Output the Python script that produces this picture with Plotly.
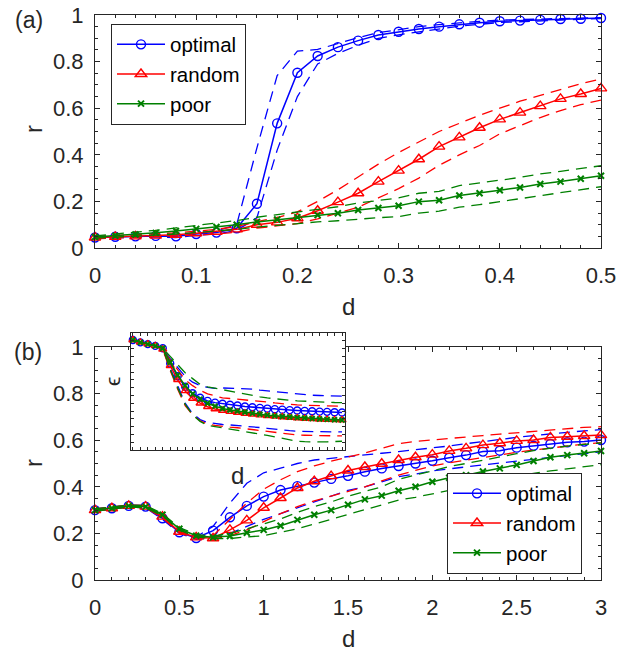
import plotly.graph_objects as go

# ---------------- data: panel (a) ----------------
d_top = [0.00, 0.02, 0.04, 0.06, 0.08, 0.10, 0.12, 0.14, 0.16, 0.18, 0.20, 0.22, 0.24,
         0.26, 0.28, 0.30, 0.32, 0.34, 0.36, 0.38, 0.40, 0.42, 0.44, 0.46, 0.48, 0.50]
opt_top = [0.045, 0.048, 0.050, 0.052, 0.050, 0.060, 0.066, 0.085, 0.190, 0.535, 0.752, 0.824, 0.862,
           0.890, 0.914, 0.928, 0.940, 0.950, 0.960, 0.967, 0.973, 0.976, 0.979, 0.983, 0.984, 0.987]
opt_top_hi = [0.050, 0.052, 0.055, 0.057, 0.056, 0.066, 0.073, 0.100, 0.430, 0.740, 0.845, 0.852, 0.878,
              0.903, 0.924, 0.938, 0.950, 0.959, 0.967, 0.973, 0.978, 0.981, 0.983, 0.986, 0.987, 0.989]
opt_top_lo = [0.040, 0.044, 0.046, 0.047, 0.045, 0.054, 0.060, 0.075, 0.130, 0.420, 0.650, 0.790, 0.835,
              0.870, 0.900, 0.915, 0.928, 0.940, 0.952, 0.960, 0.968, 0.971, 0.975, 0.980, 0.981, 0.985]
rnd_top = [0.045, 0.048, 0.050, 0.053, 0.057, 0.063, 0.070, 0.080, 0.100, 0.110, 0.128, 0.160, 0.197,
           0.235, 0.285, 0.332, 0.381, 0.435, 0.475, 0.516, 0.552, 0.581, 0.609, 0.640, 0.661, 0.685]
rnd_top_hi = [0.050, 0.053, 0.056, 0.060, 0.065, 0.072, 0.080, 0.092, 0.113, 0.130, 0.155, 0.200, 0.250,
              0.305, 0.360, 0.410, 0.455, 0.500, 0.535, 0.570, 0.600, 0.630, 0.655, 0.680, 0.705, 0.725]
rnd_top_lo = [0.040, 0.043, 0.045, 0.047, 0.050, 0.055, 0.060, 0.068, 0.085, 0.095, 0.105, 0.125, 0.150,
              0.175, 0.215, 0.255, 0.300, 0.355, 0.400, 0.440, 0.490, 0.525, 0.560, 0.590, 0.615, 0.635]
poor_top = [0.047, 0.052, 0.058, 0.065, 0.073, 0.082, 0.090, 0.100, 0.112, 0.122, 0.132, 0.141, 0.149,
            0.163, 0.172, 0.181, 0.199, 0.205, 0.225, 0.235, 0.248, 0.260, 0.275, 0.285, 0.297, 0.310]
poor_top_hi = [0.052, 0.059, 0.067, 0.076, 0.086, 0.097, 0.106, 0.118, 0.132, 0.144, 0.156, 0.167, 0.177,
               0.193, 0.204, 0.215, 0.235, 0.243, 0.268, 0.278, 0.291, 0.303, 0.318, 0.329, 0.341, 0.353]
poor_top_lo = [0.042, 0.046, 0.050, 0.055, 0.060, 0.066, 0.072, 0.080, 0.090, 0.098, 0.106, 0.112, 0.117,
               0.125, 0.130, 0.135, 0.150, 0.158, 0.175, 0.186, 0.199, 0.212, 0.226, 0.238, 0.250, 0.263]

# ---------------- data: panel (b) ----------------
d_bot = [0.0, 0.1, 0.2, 0.3, 0.4, 0.5, 0.6, 0.7, 0.8, 0.9, 1.0, 1.1, 1.2, 1.3, 1.4, 1.5,
         1.6, 1.7, 1.8, 1.9, 2.0, 2.1, 2.2, 2.3, 2.4, 2.5, 2.6, 2.7, 2.8, 2.9, 3.0]
opt_bot = [0.300, 0.308, 0.318, 0.315, 0.265, 0.205, 0.180, 0.212, 0.269, 0.318, 0.358, 0.386, 0.403, 0.418,
           0.434, 0.447, 0.465, 0.479, 0.489, 0.500, 0.512, 0.525, 0.536, 0.551, 0.555, 0.568, 0.576, 0.584,
           0.591, 0.594, 0.601]
opt_bot_hi = [0.305, 0.313, 0.322, 0.320, 0.270, 0.210, 0.185, 0.230, 0.330, 0.415, 0.460, 0.480, 0.500,
              0.515, 0.523, 0.530, 0.537, 0.544, 0.551, 0.558, 0.565, 0.575, 0.585, 0.595, 0.605, 0.612,
              0.620, 0.628, 0.634, 0.640, 0.645]
opt_bot_lo = [0.295, 0.303, 0.313, 0.310, 0.260, 0.200, 0.175, 0.180, 0.200, 0.230, 0.260, 0.285, 0.310,
              0.335, 0.358, 0.385, 0.400, 0.420, 0.443, 0.455, 0.468, 0.477, 0.486, 0.495, 0.503, 0.510,
              0.518, 0.526, 0.533, 0.541, 0.550]
rnd_bot = [0.300, 0.308, 0.318, 0.315, 0.272, 0.207, 0.183, 0.179, 0.215, 0.256, 0.310, 0.352, 0.395, 0.424,
           0.446, 0.470, 0.485, 0.499, 0.515, 0.527, 0.538, 0.554, 0.565, 0.579, 0.587, 0.597, 0.601, 0.612,
           0.615, 0.618, 0.622]
rnd_bot_hi = [0.305, 0.313, 0.322, 0.320, 0.277, 0.212, 0.188, 0.190, 0.260, 0.330, 0.390, 0.430, 0.465,
              0.490, 0.510, 0.527, 0.545, 0.565, 0.585, 0.595, 0.602, 0.608, 0.614, 0.620, 0.626, 0.632,
              0.638, 0.644, 0.650, 0.655, 0.658]
rnd_bot_lo = [0.295, 0.303, 0.313, 0.310, 0.267, 0.202, 0.178, 0.175, 0.190, 0.215, 0.250, 0.285, 0.315,
              0.340, 0.360, 0.380, 0.400, 0.425, 0.450, 0.470, 0.490, 0.503, 0.515, 0.527, 0.538, 0.548,
              0.558, 0.567, 0.575, 0.583, 0.590]
poor_bot = [0.300, 0.308, 0.318, 0.315, 0.280, 0.220, 0.190, 0.183, 0.189, 0.203, 0.215, 0.233, 0.258, 0.280,
            0.300, 0.323, 0.346, 0.362, 0.383, 0.400, 0.422, 0.439, 0.450, 0.466, 0.479, 0.494, 0.511, 0.527,
            0.536, 0.544, 0.554]
poor_bot_hi = [0.305, 0.313, 0.322, 0.320, 0.285, 0.225, 0.195, 0.188, 0.200, 0.220, 0.240, 0.262, 0.290,
               0.315, 0.335, 0.360, 0.380, 0.400, 0.432, 0.450, 0.470, 0.487, 0.500, 0.515, 0.528, 0.542,
               0.555, 0.566, 0.575, 0.582, 0.588]
poor_bot_lo = [0.295, 0.303, 0.313, 0.310, 0.275, 0.215, 0.185, 0.178, 0.178, 0.185, 0.190, 0.205, 0.220,
               0.240, 0.260, 0.280, 0.300, 0.320, 0.343, 0.355, 0.370, 0.385, 0.400, 0.415, 0.430, 0.445,
               0.458, 0.468, 0.477, 0.485, 0.495]

# ---------------- data: inset (epsilon vs d, unlabeled axes) ----------------
k_in = list(range(29))
opt_in = [0.940, 0.920, 0.905, 0.890, 0.870, 0.740, 0.630, 0.540, 0.485, 0.447, 0.420, 0.405, 0.395, 0.387,
          0.380, 0.372, 0.366, 0.360, 0.354, 0.349, 0.345, 0.341, 0.337, 0.334, 0.331, 0.328, 0.326, 0.323, 0.320]
opt_in_hi = [0.940, 0.920, 0.905, 0.890, 0.870, 0.780, 0.700, 0.630, 0.580, 0.550, 0.535, 0.527, 0.530, 0.528,
             0.525, 0.522, 0.520, 0.512, 0.505, 0.497, 0.490, 0.484, 0.478, 0.473, 0.468, 0.466, 0.464, 0.462, 0.460]
opt_in_lo = [0.940, 0.920, 0.905, 0.890, 0.870, 0.700, 0.550, 0.400, 0.310, 0.260, 0.235, 0.225, 0.218, 0.214,
             0.210, 0.205, 0.200, 0.192, 0.185, 0.177, 0.170, 0.165, 0.160, 0.158, 0.157, 0.156, 0.156, 0.155, 0.155]
rnd_in = [0.940, 0.920, 0.905, 0.890, 0.860, 0.720, 0.600, 0.505, 0.440, 0.400, 0.370, 0.350, 0.337, 0.328,
          0.320, 0.312, 0.305, 0.298, 0.292, 0.287, 0.282, 0.277, 0.273, 0.269, 0.266, 0.263, 0.260, 0.258, 0.256]
rnd_in_hi = [0.940, 0.920, 0.905, 0.890, 0.860, 0.770, 0.680, 0.600, 0.550, 0.510, 0.480, 0.460, 0.445, 0.440,
             0.435, 0.430, 0.425, 0.418, 0.410, 0.402, 0.395, 0.390, 0.385, 0.382, 0.380, 0.379, 0.378, 0.376, 0.375]
rnd_in_lo = [0.940, 0.920, 0.905, 0.890, 0.860, 0.680, 0.520, 0.380, 0.300, 0.250, 0.220, 0.210, 0.200, 0.195,
             0.190, 0.182, 0.175, 0.165, 0.155, 0.147, 0.140, 0.134, 0.128, 0.126, 0.124, 0.123, 0.122, 0.121, 0.120]
poor_in = [0.940, 0.920, 0.905, 0.890, 0.870, 0.750, 0.640, 0.550, 0.480, 0.435, 0.400, 0.375, 0.355, 0.342,
           0.332, 0.322, 0.313, 0.305, 0.298, 0.292, 0.287, 0.282, 0.277, 0.273, 0.269, 0.265, 0.262, 0.259, 0.256]
poor_in_hi = [0.940, 0.920, 0.905, 0.890, 0.870, 0.800, 0.730, 0.660, 0.610, 0.560, 0.540, 0.527, 0.515, 0.502,
              0.490, 0.477, 0.465, 0.455, 0.445, 0.437, 0.430, 0.425, 0.420, 0.416, 0.412, 0.410, 0.408, 0.406, 0.405]
poor_in_lo = [0.940, 0.920, 0.905, 0.890, 0.870, 0.690, 0.530, 0.390, 0.300, 0.245, 0.210, 0.200, 0.190, 0.180,
              0.170, 0.160, 0.150, 0.137, 0.125, 0.112, 0.100, 0.087, 0.075, 0.071, 0.068, 0.069, 0.070, 0.072, 0.075]

series_names = ["optimal", "random", "poor"]

# ---------------- styling ----------------
W, H = 637, 654
BLUE, RED, GREEN = "#0000FF", "#FF0000", "#008000"
AX = "#262626"
FONT = "Liberation Sans, Arial, Helvetica, sans-serif"


def px(xp):
    return xp / W


def py(yp):
    return 1 - yp / H


styles = [
    dict(color=BLUE, symbol="circle-open", size=9, isize=7, lw=1.4),
    dict(color=RED, symbol="triangle-up-open", size=10, isize=7, lw=1.4),
    dict(color=GREEN, symbol="x-thin-open", size=6, isize=5, lw=2.0),
]

fig = go.Figure()


def add_group(x, mean, hi, lo, st, name, xa, ya, legend, showleg, inset=False):
    dash = "11px,7px"
    for band in (hi, lo):
        fig.add_trace(go.Scatter(
            x=x, y=band, mode="lines", xaxis=xa, yaxis=ya, showlegend=False,
            line=dict(color=st["color"], width=1.3, dash=dash), hoverinfo="skip"))
    fig.add_trace(go.Scatter(
        x=x, y=mean, mode="lines+markers", name=name, xaxis=xa, yaxis=ya,
        legend=legend, showlegend=showleg, cliponaxis=False,
        line=dict(color=st["color"], width=1.5),
        marker=dict(symbol=st["symbol"], size=st["isize"] if inset else st["size"],
                    color=st["color"], line=dict(color=st["color"], width=st["lw"]))))


top_sets = [(opt_top, opt_top_hi, opt_top_lo), (rnd_top, rnd_top_hi, rnd_top_lo),
            (poor_top, poor_top_hi, poor_top_lo)]
bot_sets = [(opt_bot, opt_bot_hi, opt_bot_lo), (rnd_bot, rnd_bot_hi, rnd_bot_lo),
            (poor_bot, poor_bot_hi, poor_bot_lo)]
in_sets = [(opt_in, opt_in_hi, opt_in_lo), (rnd_in, rnd_in_hi, rnd_in_lo),
           (poor_in, poor_in_hi, poor_in_lo)]

for (m, h, l), st, nm in zip(top_sets, styles, series_names):
    add_group(d_top, m, h, l, st, nm, "x", "y", "legend", True)
for (m, h, l), st, nm in zip(bot_sets, styles, series_names):
    add_group(d_bot, m, h, l, st, nm, "x2", "y2", "legend2", True)
for (m, h, l), st, nm in zip(in_sets, styles, series_names):
    add_group(k_in, m, h, l, st, nm, "x3", "y3", "legend", False, inset=True)

tickfont = dict(family=FONT, size=22, color=AX)
common = dict(showline=True, linecolor=AX, linewidth=1, mirror="ticks", ticks="inside",
              ticklen=5, tickcolor=AX, tickwidth=1, showgrid=False, zeroline=False,
              tickfont=tickfont, automargin=False)

legend_common = dict(xanchor="left", yanchor="middle", bgcolor="white", bordercolor=AX,
                     borderwidth=1, itemwidth=48, tracegroupgap=0,
                     font=dict(family=FONT, size=20.5, color="black"))

fig.update_layout(
    template="none",
    width=W, height=H, margin=dict(l=0, r=0, t=0, b=0, pad=0),
    paper_bgcolor="white", plot_bgcolor="white",
    font=dict(family=FONT, color=AX),
    xaxis=dict(domain=[px(95), px(601)], range=[0, 0.5], dtick=0.1, anchor="y",
               ticklabelstandoff=8,
               minor=dict(dtick=0.02, ticks="inside", ticklen=3, tickcolor=AX), **common),
    yaxis=dict(domain=[py(248), py(15)], range=[0, 1], dtick=0.2, anchor="x",
               ticklabelstandoff=6,
               minor=dict(dtick=0.05, ticks="inside", ticklen=3, tickcolor=AX), **common),
    xaxis2=dict(domain=[px(95), px(601)], range=[0, 3], dtick=0.5, anchor="y2",
                ticklabelstandoff=8,
                minor=dict(dtick=0.1, ticks="inside", ticklen=3, tickcolor=AX), **common),
    yaxis2=dict(domain=[py(580), py(347)], range=[0, 1], dtick=0.2, anchor="x2",
                ticklabelstandoff=6,
                minor=dict(dtick=0.05, ticks="inside", ticklen=3, tickcolor=AX), **common),
    xaxis3=dict(domain=[px(131), px(345)], range=[-0.25, 28.4], dtick=1, anchor="y3",
                showline=True, linecolor=AX, linewidth=1, mirror="ticks", ticks="inside",
                ticklen=3, tickcolor=AX, showticklabels=False, showgrid=False, zeroline=False),
    yaxis3=dict(domain=[py(450), py(333)], range=[0, 1], dtick=1 / 15, anchor="x3",
                showline=True, linecolor=AX, linewidth=1, mirror="ticks", ticks="inside",
                ticklen=3, tickcolor=AX, showticklabels=False, showgrid=False, zeroline=False),
    legend=dict(x=px(111), y=py(74), **legend_common),
    legend2=dict(x=px(447), y=py(523), **legend_common),
    showlegend=True,
)

ann_font = dict(family=FONT, size=24, color=AX)
annotations = [
    dict(text="(a)", x=px(29), y=py(20), font=dict(family=FONT, size=23, color=AX)),
    dict(text="(b)", x=px(28), y=py(352), font=dict(family=FONT, size=23, color=AX)),
    dict(text="r", x=px(33), y=py(129), font=ann_font, textangle=-90),
    dict(text="r", x=px(33), y=py(463), font=ann_font, textangle=-90),
    dict(text="d", x=px(348), y=py(306), font=ann_font),
    dict(text="d", x=px(348), y=py(638), font=ann_font),
    dict(text="ϵ", x=px(112), y=py(382), font=dict(family=FONT, size=21, color=AX), textangle=-90),
    dict(text="d", x=px(237), y=py(475), font=ann_font),
]
for a in annotations:
    fig.add_annotation(xref="paper", yref="paper", xanchor="center", yanchor="middle",
                       showarrow=False, **a)

fig.write_html(
    "out.html",
    config={"displayModeBar": False},
    post_script="document.body.style.margin='0px';document.body.style.padding='0px';"
                "document.body.style.overflow='hidden';",
)
